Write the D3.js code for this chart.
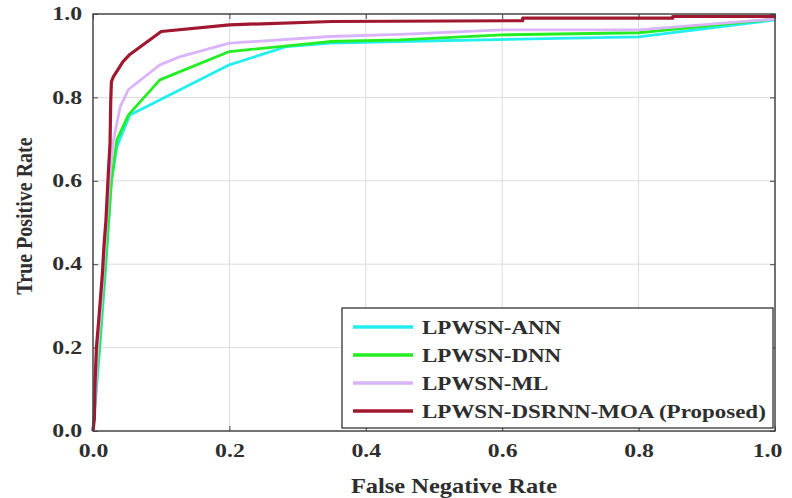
<!DOCTYPE html>
<html>
<head>
<meta charset="utf-8">
<script src="https://cdn.jsdelivr.net/npm/d3@7"></script>
<style>
  body { margin: 0; background: #fff; }
  text { font-family: "Liberation Serif", "Times New Roman", serif; font-weight: bold; fill: #2e2e2e; }
</style>
</head>
<body>
<div id="chart"></div>
<script>
// series values (x = false negative rate, y = true positive rate)
let seriesNames = ["LPWSN-ANN", "LPWSN-DNN", "LPWSN-ML", "LPWSN-DSRNN-MOA (Proposed)"];
let seriesColors = ["#22eef2", "#22ee22", "#d9b4fa", "#a0182f"];

let annX = [0, 0.005, 0.01, 0.019, 0.027, 0.035, 0.054, 0.079, 0.2, 0.284, 0.347, 0.45, 0.7, 0.8, 1.0];
let annY = [0, 0.1, 0.2, 0.4, 0.6, 0.682, 0.758, 0.778, 0.878, 0.922, 0.93, 0.934, 0.942, 0.945, 0.986];

let dnnX = [0, 0.004, 0.009, 0.018, 0.027, 0.035, 0.052, 0.098, 0.2, 0.347, 0.45, 0.6, 0.8, 1.0];
let dnnY = [0, 0.1, 0.2, 0.4, 0.6, 0.698, 0.758, 0.842, 0.91, 0.934, 0.938, 0.95, 0.955, 0.988];

let mlX = [0, 0.004, 0.007, 0.012, 0.016, 0.02, 0.024, 0.03, 0.04, 0.052, 0.098, 0.128, 0.2, 0.347, 0.45, 0.6, 0.8, 1.0];
let mlY = [0, 0.1, 0.2, 0.3, 0.4, 0.5, 0.6, 0.698, 0.778, 0.819, 0.878, 0.898, 0.93, 0.946, 0.951, 0.962, 0.962, 0.988];

let moaX = [0, 0.002, 0.003, 0.005, 0.008, 0.011, 0.014, 0.016, 0.019, 0.021, 0.023, 0.025, 0.026, 0.027, 0.03, 0.044, 0.054, 0.1, 0.2, 0.35, 0.63, 0.63, 0.85, 0.85, 1.0];
let moaY = [0, 0.03, 0.115, 0.2, 0.258, 0.319, 0.382, 0.442, 0.506, 0.57, 0.634, 0.69, 0.79, 0.838, 0.85, 0.886, 0.903, 0.958, 0.974, 0.982, 0.984, 0.99, 0.99, 0.994, 0.994];

let tickValues = [0, 0.2, 0.4, 0.6, 0.8, 1.0];

let seriesX = [annX, dnnX, mlX, moaX];
let seriesY = [annY, dnnY, mlY, moaY];

let width = 792, height = 498;
let margin = { top: 14, right: 17, bottom: 67, left: 93 };
let w = width - margin.left - margin.right;
let h = height - margin.top - margin.bottom;

let svg = d3.select("#chart")
	.append("svg")
	.attr("width", width)
	.attr("height", height);

let xScale = d3.scaleLinear().domain([0, 1]).range([0, w]);
let yScale = d3.scaleLinear().domain([0, 1]).range([h, 0]);

let g = svg.append("g")
	.attr("transform", "translate(" + margin.left + "," + margin.top + ")");

// the text in the reference is drawn wider than the font, so stretch it
function stretch(sel, k) {
	sel.each(function () {
		let len = this.getComputedTextLength();
		d3.select(this).attr("textLength", len * k).attr("lengthAdjust", "spacingAndGlyphs");
	});
}

// grid
g.append("g")
	.selectAll("line")
	.data(tickValues.slice(1, -1))
	.enter().append("line")
	.attr("x1", d => xScale(d)).attr("x2", d => xScale(d))
	.attr("y1", 0).attr("y2", h)
	.attr("stroke", "#dcdcdc").attr("stroke-width", 1);
g.append("g")
	.selectAll("line")
	.data(tickValues.slice(1, -1))
	.enter().append("line")
	.attr("y1", d => yScale(d)).attr("y2", d => yScale(d))
	.attr("x1", 0).attr("x2", w)
	.attr("stroke", "#dcdcdc").attr("stroke-width", 1);

// axes, ticks pointing inward
let fmt = d3.format(".1f");
let xAxis = g.append("g")
	.attr("transform", "translate(0," + h + ")")
	.call(d3.axisBottom(xScale).tickValues(tickValues).tickFormat(fmt).tickSizeInner(-5).tickSizeOuter(0).tickPadding(13));
let yAxis = g.append("g")
	.call(d3.axisLeft(yScale).tickValues(tickValues).tickFormat(fmt).tickSizeInner(-5).tickSizeOuter(0).tickPadding(11));
g.append("g")
	.call(d3.axisTop(xScale).tickValues(tickValues).tickFormat("").tickSizeInner(-5).tickSizeOuter(0));
g.append("g")
	.attr("transform", "translate(" + w + ",0)")
	.call(d3.axisRight(yScale).tickValues(tickValues).tickFormat("").tickSizeInner(-5).tickSizeOuter(0));

svg.selectAll(".domain").remove();
svg.selectAll(".tick line").attr("stroke", "#444");
svg.selectAll(".tick text")
	.style("font-size", "18px")
	.style("font-family", "'Liberation Serif', serif")
	.style("font-weight", "bold")
	.attr("fill", "#2e2e2e");
xAxis.selectAll(".tick text").filter(d => d == 1).attr("dx", "-8");
stretch(svg.selectAll(".tick text"), 1.32);

// curves
let line = d3.line()
	.x(d => xScale(d[0]))
	.y(d => yScale(d[1]));

seriesNames.forEach(function (name, i) {
	let pts = seriesX[i].map((x, j) => [x, seriesY[i][j]]);
	g.append("path")
		.datum(pts)
		.attr("fill", "none")
		.attr("stroke", seriesColors[i])
		.attr("stroke-width", i == 3 ? 3.2 : 2.8)
		.attr("stroke-linejoin", "round")
		.attr("d", line);
});

// frame
g.append("rect")
	.attr("x", 0).attr("y", 0)
	.attr("width", w).attr("height", h)
	.attr("fill", "none")
	.attr("stroke", "#444")
	.attr("stroke-width", 1.5);

// legend
let legend = g.append("g")
	.attr("transform", "translate(" + (342 - margin.left) + "," + (308 - margin.top) + ")");
legend.append("rect")
	.attr("width", 431).attr("height", 120)
	.attr("fill", "#fff")
	.attr("stroke", "#333")
	.attr("stroke-width", 1.3);
seriesNames.forEach(function (name, i) {
	let y = 19 + i * 28;
	legend.append("line")
		.attr("x1", 11).attr("x2", 71)
		.attr("y1", y).attr("y2", y)
		.attr("stroke", seriesColors[i])
		.attr("stroke-width", 3.5);
	legend.append("text")
		.attr("class", "leg")
		.attr("x", 80).attr("y", y + 7)
		.style("font-size", "19px")
		.text(name);
});
stretch(legend.selectAll(".leg"), 1.21);

// axis titles
let xt = g.append("text")
	.attr("x", w / 2 + 20)
	.attr("y", h + 62)
	.attr("text-anchor", "middle")
	.style("font-size", "22px")
	.text("False Negative Rate");
stretch(xt, 1.11);
svg.append("text")
	.attr("transform", "translate(32,216) rotate(-90) scale(1,1.2)")
	.attr("text-anchor", "middle")
	.style("font-size", "20px")
	.text("True Positive Rate");
</script>
</body>
</html>
